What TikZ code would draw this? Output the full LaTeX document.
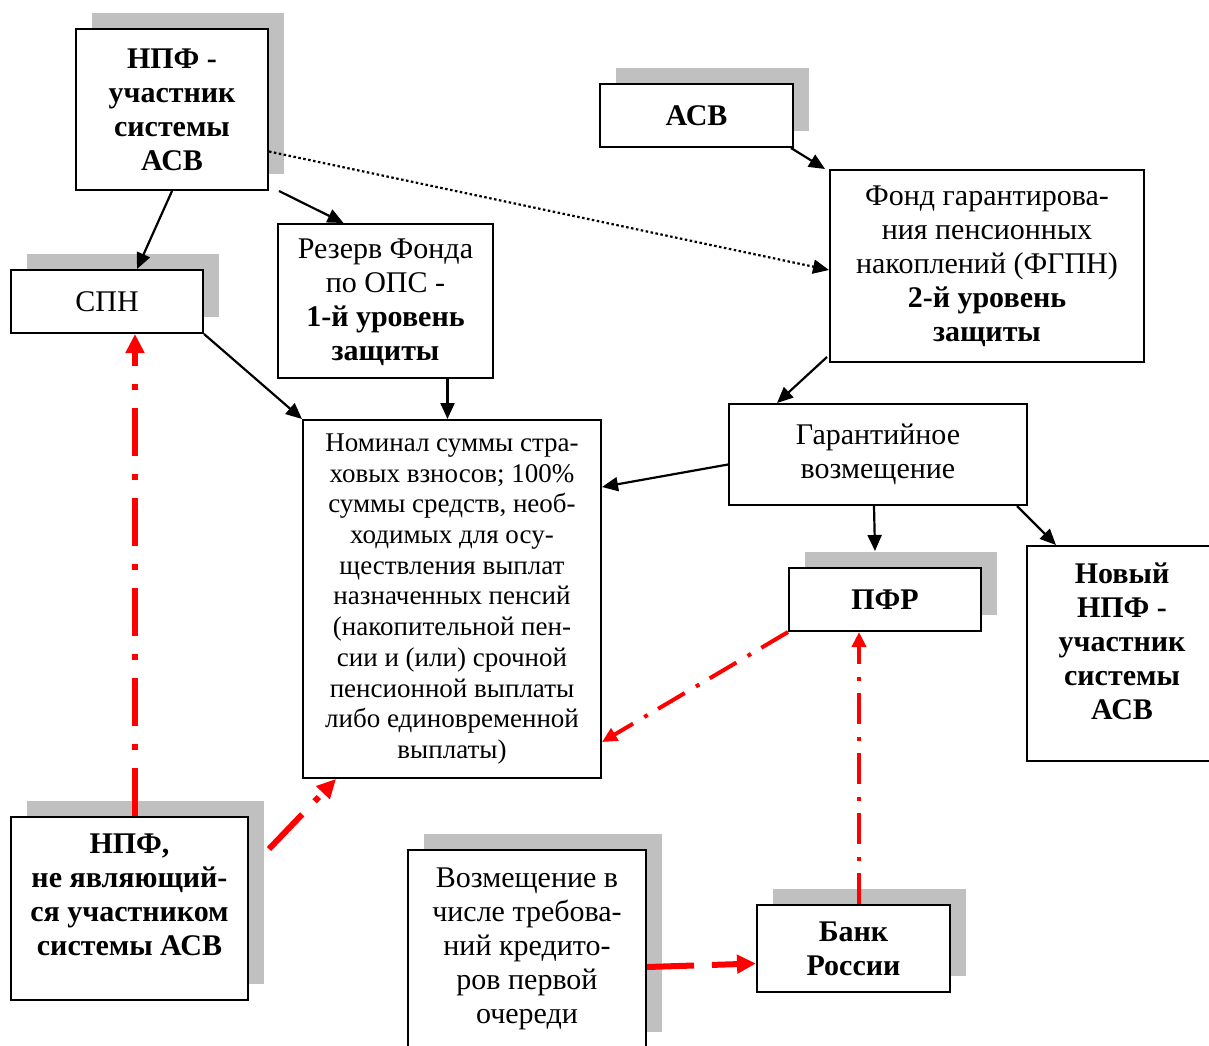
\documentclass[tikz,border=0pt]{standalone}
\usepackage{fontspec}
\setmainfont{Liberation Serif}
\usetikzlibrary{arrows.meta,shadows,positioning}
\definecolor{shadowgray}{HTML}{C0C0C0}

\begin{document}
\begin{tikzpicture}[x=1pt,y=-1pt,
    box/.style={draw,line width=2pt,fill=white,align=center,inner sep=0pt,
      font=\fontsize{30}{34}\selectfont},
    shadowed/.style={drop shadow={shadow xshift=16pt,shadow yshift=16pt,
      fill=shadowgray,opacity=1}},
    link/.style={line width=2.2pt,-{Triangle[length=16pt,width=14pt]}},
    redlink/.style={red,line width=6pt,dash pattern=on 48pt off 18pt on 6pt off 18pt,
      -{Triangle[length=19pt,width=18pt]}},
    thinred/.style={red,line width=4pt,dash pattern=on 31pt off 12pt on 4pt off 13pt,
      -{Triangle[length=15pt,width=14pt]}},
  ]
  \useasboundingbox (0,0) rectangle (1209,1045);

  % Set up the boxes
  \node[box,shadowed,font=\fontsize{30}{34}\selectfont\bfseries,
    minimum width=192pt,minimum height=161pt] (npf) at (172,109.5)
    {НПФ -\\участник\\системы\\АСВ};
  \node[box,shadowed,minimum width=192pt,minimum height=63pt] (spn) at (107,301.5) {СПН};
  \node[box,text depth=2pt,minimum width=215pt,minimum height=154pt] (rezerv) at (385.5,301)
    {Резерв Фонда\\по ОПС -\\\textbf{1-й уровень}\\\textbf{защиты}};
  \node[box,shadowed,font=\fontsize{30}{34}\selectfont\bfseries,
    minimum width=193pt,minimum height=63pt] (asv) at (696.5,115.5) {АСВ};
  \node[box,minimum width=314pt,minimum height=192pt] (fgpn) at (987,266)
    {Фонд гарантирова-\\ния пенсионных\\накоплений (ФГПН)\\\textbf{2-й уровень}\\\textbf{защиты}};
  \node[box,font=\fontsize{27}{30.7}\selectfont,
    minimum width=298pt,minimum height=358pt] (nominal) at (452,599)
    {Номинал суммы стра-\\ховых взносов; 100\%\\суммы средств, необ-\\ходимых для осу-\\ществления выплат\\назначенных пенсий\\(накопительной пен-\\сии и (или) срочной\\пенсионной выплаты\\либо единовременной\\выплаты)};
  \node[box,minimum width=298pt,minimum height=101pt] (garant) at (878,454.5)
    {Гарантийное\\возмещение};
  \node[box,shadowed,font=\fontsize{30}{34}\selectfont\bfseries,
    minimum width=192pt,minimum height=63pt] (pfr) at (885,599.5) {ПФР};
  \node[box,font=\fontsize{30}{34}\selectfont\bfseries,text depth=24pt,
    minimum width=190pt,minimum height=215pt] (novyi) at (1122,653.5)
    {Новый\\НПФ -\\участник\\системы\\АСВ};
  \node[box,shadowed,font=\fontsize{30}{34}\selectfont\bfseries,text depth=28pt,
    minimum width=237pt,minimum height=183pt] (npfne) at (129.5,908.5)
    {НПФ,\\не являющий-\\ся участником\\системы АСВ};
  \node[box,shadowed,minimum width=238pt,minimum height=198pt] (vozm) at (527,949)
    {Возмещение в\\числе требова-\\ний кредито-\\ров первой\\очереди};
  \node[box,shadowed,font=\fontsize{30}{34}\selectfont\bfseries,
    minimum width=193pt,minimum height=87pt] (bank) at (853.5,948.5) {Банк\\России};

  % Add the arrows
  \draw[link] (npf.south) -- ([xshift=30pt]spn.north);
  \draw[link] ([xshift=10pt]npf.south east) -- ([xshift=-42pt]rezerv.north);
  \draw[link,dash pattern=on 2.5pt off 2.5pt] ([yshift=-42pt]npf.east) -- ([yshift=-4pt]fgpn.west);
  \draw[link] ([xshift=-3pt]asv.south east) -- ([xshift=-4pt]fgpn.north west);
  \draw[link] (spn.south east) -- (nominal.north west);
  \draw[link] ([xshift=62pt]rezerv.south) -- ([xshift=62pt]rezerv.south |- nominal.north);
  \draw[link] ([yshift=6pt,xshift=-2pt]fgpn.south west) -- ([xshift=49pt]garant.north west);
  \draw[link] ([yshift=-10pt]garant.west) -- ([yshift=112pt]nominal.east);
  \draw[link] ([xshift=-4pt]garant.south) -- ([xshift=-10pt,yshift=16pt]pfr.north);
  \draw[link] ([xshift=-11pt]garant.south east) -- ([xshift=30pt]novyi.north west);

  \draw[redlink] ([xshift=5.5pt]npfne.north) -- ([xshift=5.5pt]npfne.north |- spn.south);
  \draw[redlink] ([shift={(20pt,-33pt)}]npfne.north east) -- ([xshift=34pt]nominal.south west);
  \draw[thinred] (pfr.south west) -- ([yshift=-143pt]nominal.east);
  \draw[thinred] ([xshift=5.5pt]bank.north) -- ([xshift=5.5pt]bank.north |- pfr.south);
  \draw[redlink,dash pattern=on 47pt off 18pt] ([yshift=-18pt]vozm.east) -- ([yshift=-15pt]bank.west);
\end{tikzpicture}
\end{document}
